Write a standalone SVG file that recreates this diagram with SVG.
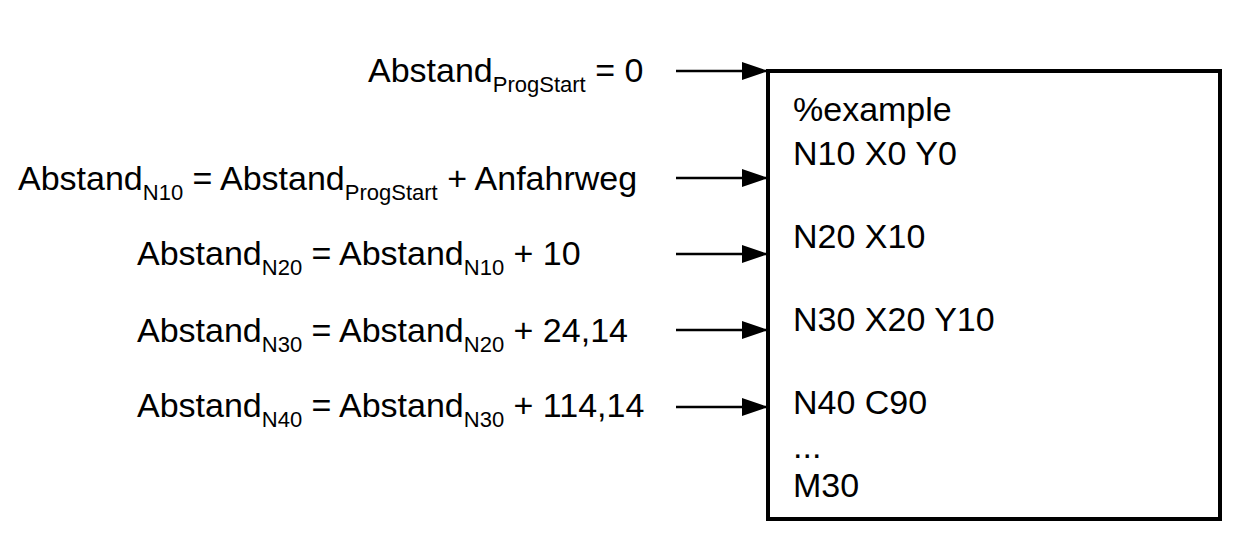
<svg xmlns="http://www.w3.org/2000/svg" width="1253" height="543" viewBox="0 0 1253 543">
<style>
text{font-family:"Liberation Sans",Arial,sans-serif;font-size:34px;fill:#000}
.s{font-size:22px}
.c line{stroke:#000;stroke-width:2.5}
</style>
<defs><marker id="a" markerUnits="userSpaceOnUse" markerWidth="26" markerHeight="18" refX="26" refY="9" orient="auto"><path d="M0,0 L26,9 L0,18 Z" fill="#000"/></marker></defs>
<rect width="1253" height="543" fill="#fff"/>
<g id="program"><rect x="768" y="71" width="452" height="448" fill="none" stroke="#000" stroke-width="4"/>
<text x="793" y="121">%example</text><text x="793" y="165">N10 X0 Y0</text><text x="793" y="248">N20 X10</text><text x="793" y="331">N30 X20 Y10</text><text x="793" y="414">N40 C90</text><text x="793" y="458">...</text><text x="793" y="497">M30</text></g>
<g id="l1"><text x="368" y="82">Abstand<tspan class="s" dy="10">ProgStart</tspan><tspan dy="-10"> = 0</tspan></text></g>
<g id="l2"><text x="18" y="190">Abstand<tspan class="s" dy="10">N10</tspan><tspan dy="-10"> = Abstand</tspan><tspan class="s" dy="10">ProgStart</tspan><tspan dy="-10"> + Anfahrweg</tspan></text></g>
<g id="l3"><text x="137" y="265">Abstand<tspan class="s" dy="10">N20</tspan><tspan dy="-10"> = Abstand</tspan><tspan class="s" dy="10">N10</tspan><tspan dy="-10"> + 10</tspan></text></g>
<g id="l4"><text x="137" y="342">Abstand<tspan class="s" dy="10">N30</tspan><tspan dy="-10"> = Abstand</tspan><tspan class="s" dy="10">N20</tspan><tspan dy="-10"> + 24,14</tspan></text></g>
<g id="l5"><text x="137" y="417">Abstand<tspan class="s" dy="10">N40</tspan><tspan dy="-10"> = Abstand</tspan><tspan class="s" dy="10">N30</tspan><tspan dy="-10"> + 114,14</tspan></text></g>
<g class="c" id="connectors">
<line x1="676" y1="71" x2="768" y2="71" marker-end="url(#a)"/>
<line x1="676" y1="178" x2="768" y2="178" marker-end="url(#a)"/>
<line x1="676" y1="254" x2="768" y2="254" marker-end="url(#a)"/>
<line x1="676" y1="330" x2="768" y2="330" marker-end="url(#a)"/>
<line x1="676" y1="407" x2="768" y2="407" marker-end="url(#a)"/>
</g>
</svg>
